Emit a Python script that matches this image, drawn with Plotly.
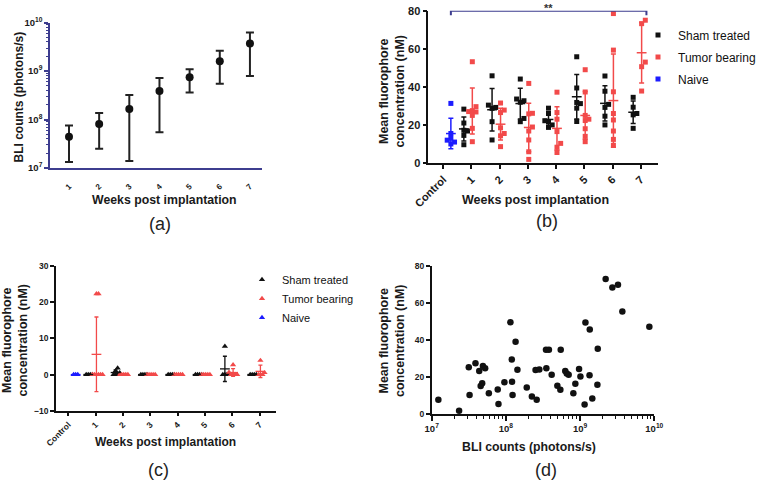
import numpy as np
import plotly.graph_objects as go

FONT = "Liberation Sans, Arial, sans-serif"
BLACK = "#111111"
RED = "#f24a4a"
BLUE = "#1c1cff"
NAVY = "#3d3d8f"

# ---------------- (a) BLI counts over time ----------------
weeks_a = [1, 2, 3, 4, 5, 6, 7]
week_labels_a = ["1", "2", "3", "4", "5", "6", "7"]
bli_mean_a = [4.4e7, 8.1e7, 1.65e8, 3.9e8, 7.5e8, 1.6e9, 3.7e9]
bli_upper_a = [7.5e7, 1.37e8, 3.2e8, 7.2e8, 1.1e9, 2.65e9, 6.3e9]
bli_lower_a = [1.33e7, 2.5e7, 1.4e7, 5.5e7, 3.6e8, 5.5e8, 7.9e8]

# ---------------- (b) fluorophore concentration ----------------
group_labels = ["Control", "1", "2", "3", "4", "5", "6", "7"]
naive_b = [31.3, 15.5, 13.0, 12.0, 11.0, 10.0]
sham_b = [
    [28.3, 21.0, 17.2, 16.8, 14.5, 9.6],
    [45.8, 30.4, 29.2, 28.7, 21.7, 12.1],
    [44.1, 33.6, 32.7, 31.9, 23.4, 21.7],
    [28.8, 26.0, 22.2, 21.5, 20.0, 18.7],
    [55.8, 39.4, 31.8, 31.2, 28.8, 21.8],
    [45.7, 37.7, 30.8, 29.2, 24.6, 20.0],
    [34.5, 29.3, 26.0, 25.3, 18.2],
]
tumor_b = [
    [53.2, 29.6, 27.5, 27.0, 26.8, 25.0, 18.2, 11.2],
    [31.5, 27.8, 26.5, 18.5, 15.5, 14.3, 8.6],
    [41.8, 26.1, 25.8, 18.9, 16.8, 12.1, 5.9, 1.9],
    [37.2, 26.5, 23.0, 16.5, 10.3, 8.3, 5.5],
    [49.0, 37.3, 25.0, 23.0, 22.3, 18.0, 14.0, 11.2],
    [78.5, 59.3, 37.4, 26.0, 22.6, 16.8, 12.4, 9.3],
    [75.0, 73.2, 53.0, 50.6, 37.8],
]

# ---------------- (c) second fluorophore measure ----------------
naive_c = [0, 0, 0]
sham_c = [
    [0, 0, 0, 0],
    [1.8, 1.0, 0.5, 0, 0, 0],
    [0, 0, 0, 0],
    [0, 0, 0, 0],
    [0, 0, 0, 0],
    [7.8, 0, 0, 0, 0],
    [0, 0, 0, 0],
]
tumor_c = [
    [22.3, 22.3, 0, 0, 0, 0, 0, 0],
    [0, 0, 0, 0, 0],
    [0, 0, 0, 0, 0],
    [0, 0, 0, 0, 0],
    [0, 0, 0, 0, 0],
    [2.7, 0.6, 0, 0, 0, 0],
    [3.9, 0.5, 0, 0, 0],
]

# ---------------- (d) correlation ----------------
bli_d = [1.23e7, 2.34e7, 3.16e7, 3.24e7, 3.89e7, 4.37e7, 4.90e7, 5.25e7, 4.57e7, 4.79e7,
         5.89e7, 7.76e7, 7.94e7, 9.55e7, 1.15e8, 1.20e8, 1.21e8, 1.23e8, 1.35e8, 1.43e8,
         1.91e8, 2.24e8, 2.60e8, 2.51e8, 2.82e8, 3.51e8, 3.47e8, 3.80e8, 4.14e8, 4.94e8,
         5.42e8, 5.48e8, 6.31e8, 6.61e8, 7.01e8, 8.11e8, 8.63e8, 9.68e8, 1.01e9, 1.15e9,
         1.18e9, 1.35e9, 1.34e9, 1.46e9, 1.73e9, 1.71e9, 2.21e9, 2.72e9, 3.24e9, 3.71e9,
         8.57e9]
conc_d = [7.9, 1.9, 25.4, 10.4, 27.5, 23.3, 26.0, 24.8, 15.3, 16.7,
          11.3, 13.4, 5.5, 17.3, 49.6, 29.6, 17.6, 10.4, 39.1, 24.0,
          14.4, 9.6, 7.8, 23.9, 24.2, 24.9, 34.8, 34.8, 21.3, 15.4,
          13.2, 34.8, 23.4, 22.0, 21.3, 11.4, 16.5, 24.4, 20.4, 5.3,
          49.5, 45.8, 21.0, 8.5, 35.3, 15.9, 73.0, 68.4, 69.9, 55.5,
          47.2]

OFF_NAIVE, OFF_SHAM, OFF_TUMOR = 0.27, -0.27, 0.03


def swarm(vals, step, ythr):
    """Deterministic spread of points with similar values (beeswarm-like)."""
    order = np.argsort(vals, kind="stable")
    placed, offs = [], [0.0] * len(vals)
    cands = [0.0]
    for k in range(1, 30):
        cands += [k * step, -k * step]
    for i in order:
        v = vals[i]
        for c in cands:
            if all(not (abs(v - pv) < ythr and abs(c - po) < step * 0.9) for pv, po in placed):
                break
        offs[i] = c
        placed.append((v, c))
    return offs


def points(groups, idxs, off, step, ythr):
    xs, ys = [], []
    for gi, vals in zip(idxs, groups):
        for d, v in zip(swarm(vals, step, ythr), vals):
            xs.append(gi + off + d)
            ys.append(v)
    return xs, ys


def stats(groups):
    return ([float(np.mean(g)) for g in groups],
            [float(np.std(g, ddof=1)) if len(g) > 1 else 0.0 for g in groups])


fig = go.Figure()

# ---- (a)
fig.add_trace(go.Scatter(
    x=weeks_a, y=bli_mean_a, mode="markers", xaxis="x", yaxis="y", showlegend=False,
    marker=dict(symbol="circle", size=8, color=BLACK),
    error_y=dict(type="data", symmetric=False,
                 array=[u - m for u, m in zip(bli_upper_a, bli_mean_a)],
                 arrayminus=[m - l for m, l in zip(bli_mean_a, bli_lower_a)],
                 color="#222222", thickness=2, width=4),
    cliponaxis=False))


def add_group_panel(xa, ya, naive, sham, tumor, symbol, size, step, ythr, legend, names, ethick, ewidth):
    idx_w = list(range(1, 8))
    series = [
        (sham, idx_w, OFF_SHAM, BLACK, names[0]),
        (tumor, idx_w, OFF_TUMOR, RED, names[1]),
        ([naive], [0], OFF_NAIVE, BLUE, names[2]),
    ]
    for vals_list, idxs, off, col, name in series:
        xs, ys = points(vals_list, idxs, off, step, ythr)
        fig.add_trace(go.Scatter(
            x=xs, y=ys, mode="markers", name=name, xaxis=xa, yaxis=ya, legend=legend,
            legendgroup=legend + name,
            marker=dict(symbol=symbol, size=size, color=col, line=dict(width=0)),
            cliponaxis=False))
    for vals_list, idxs, off, col, name in series:
        m, s = stats(vals_list)
        fig.add_trace(go.Scatter(
            x=[i + off for i in idxs], y=m, mode="markers", showlegend=False,
            xaxis=xa, yaxis=ya,
            marker=dict(symbol="line-ew", size=7, line=dict(width=ethick, color=col)),
            error_y=dict(type="data", array=s, color=col, thickness=ethick, width=ewidth),
            cliponaxis=False))


names = ["Sham treated", "Tumor bearing", "Naive"]
add_group_panel("x2", "y2", naive_b, sham_b, tumor_b, "square", 5, 0.13, 2.4, "legend", names, 1.5, 2.5)
add_group_panel("x3", "y3", naive_c, sham_c, tumor_c, "triangle-up", 5.5, 0.075, 1.0, "legend2", names, 1.3, 2)

# significance bracket in (b): Naive group to week-7 tumor group
bx0, bx1 = 0 + OFF_NAIVE, 7 + OFF_TUMOR + 0.17
fig.add_trace(go.Scatter(
    x=[bx0, bx0, bx1, bx1], y=[77.6, 80, 80, 77.6], mode="lines", xaxis="x2", yaxis="y2",
    line=dict(color=NAVY, width=2), showlegend=False, cliponaxis=False, hoverinfo="skip"))

# ---- (d)
fig.add_trace(go.Scatter(
    x=bli_d, y=conc_d, mode="markers", xaxis="x4", yaxis="y4", showlegend=False,
    marker=dict(symbol="circle", size=6.5, color=BLACK), cliponaxis=False))

tf = dict(family=FONT, weight="bold", color="#1a1a1a")


def px_x(p):
    return p / 760.0


def px_y(p):
    return 1 - p / 481.0


axis_common = dict(showgrid=False, zeroline=False, showline=True, ticks="outside", mirror=False)
pow_text = ["10<sup>7</sup>", "10<sup>8</sup>", "10<sup>9</sup>", "10<sup>10</sup>"]

fig.update_layout(
    width=760, height=481, margin=dict(l=0, r=0, t=0, b=0, autoexpand=False),
    paper_bgcolor="white", plot_bgcolor="white",
    font=dict(family=FONT, color="#1a1a1a"),
    # (a)
    xaxis=dict(**axis_common, domain=[px_x(50), px_x(262)], anchor="y", range=[0.37, 7.4],
               tickmode="array", tickvals=weeks_a, ticktext=week_labels_a, tickangle=-45,
               linecolor=NAVY, linewidth=1.5, ticklen=0, ticklabelstandoff=9,
               tickfont=dict(**tf, size=8)),
    yaxis=dict(**axis_common, domain=[px_y(168), px_y(22.7)], anchor="x", type="log", range=[7, 10],
               tickmode="array", tickvals=[1e7, 1e8, 1e9, 1e10], ticktext=pow_text,
               linecolor=NAVY, linewidth=1.5, ticklen=4, tickcolor=NAVY, tickwidth=1.5,
               minor=dict(ticks="outside", dtick="D1", ticklen=2, tickcolor=NAVY, tickwidth=1),
               tickfont=dict(**tf, size=9.5)),
    # (b)
    xaxis2=dict(**axis_common, domain=[px_x(428.3), px_x(658)], anchor="y2", range=[-0.53, 7.61],
                tickmode="array", tickvals=list(range(8)), ticktext=group_labels, tickangle=-45,
                linecolor=BLACK, linewidth=1.5, ticklen=4, tickwidth=1.5, tickcolor=BLACK,
                tickfont=dict(**tf, size=11)),
    yaxis2=dict(**axis_common, domain=[px_y(163), px_y(10.7)], anchor="x2", range=[0, 80], dtick=20,
                linecolor=BLACK, linewidth=1.5, ticklen=4, tickwidth=1.5, tickcolor=BLACK,
                tickfont=dict(**tf, size=11)),
    # (c)
    xaxis3=dict(**axis_common, domain=[px_x(56), px_x(276)], anchor="y3", range=[-0.45, 7.6],
                tickmode="array", tickvals=list(range(8)), ticktext=group_labels, tickangle=-45,
                linecolor=BLACK, linewidth=1.5, ticklen=4, tickwidth=1.5, tickcolor=BLACK,
                tickfont=dict(**tf, size=8.5)),
    yaxis3=dict(**axis_common, domain=[px_y(410.7), px_y(266)], anchor="x3", range=[-10, 30], dtick=10,
                linecolor=BLACK, linewidth=1.5, ticklen=4, tickwidth=1.5, tickcolor=BLACK,
                tickfont=dict(**tf, size=8.5)),
    # (d)
    xaxis4=dict(**axis_common, domain=[px_x(431.7), px_x(654.3)], anchor="y4", type="log", range=[7, 10],
                tickmode="array", tickvals=[1e7, 1e8, 1e9, 1e10], ticktext=pow_text,
                linecolor=BLACK, linewidth=1.5, ticklen=5, tickwidth=1.5, tickcolor=BLACK,
                minor=dict(ticks="outside", dtick="D1", ticklen=3, tickcolor=BLACK, tickwidth=1),
                tickfont=dict(**tf, size=9.5)),
    yaxis4=dict(**axis_common, domain=[px_y(414.3), px_y(266)], anchor="x4", range=[0, 80], dtick=20,
                linecolor=BLACK, linewidth=1.5, ticklen=4, tickwidth=1.5, tickcolor=BLACK,
                tickfont=dict(**tf, size=8.5)),
    legend=dict(x=px_x(638), y=px_y(20.5), xanchor="left", yanchor="top", bgcolor="rgba(0,0,0,0)",
                font=dict(family=FONT, size=12, color="#111111"),
                traceorder="grouped", tracegroupgap=3),
    legend2=dict(x=px_x(242), y=px_y(265), xanchor="left", yanchor="top", bgcolor="rgba(0,0,0,0)",
                 font=dict(family=FONT, size=11, color="#111111"),
                 traceorder="grouped", tracegroupgap=0),
)

ann = []


def title(text, x, y, size, angle=0):
    ann.append(dict(text=text, x=px_x(x), y=px_y(y), xref="paper", yref="paper", showarrow=False,
                    xanchor="center", yanchor="middle", textangle=angle,
                    font=dict(family=FONT, size=size, weight="bold", color="#1a1a1a")))


def panel_label(text, x, y):
    ann.append(dict(text=text, x=px_x(x), y=px_y(y), xref="paper", yref="paper", showarrow=False,
                    xanchor="center", yanchor="middle",
                    font=dict(family=FONT, size=18, color="#222222")))


title("Weeks post implantation", 164.7, 200, 12.3)
title("BLI counts (photons/s)", 18, 97.5, 12, -90)
title("Weeks post implantation", 535.8, 200, 12.5)
title("Mean fluorophore<br>concentration (nM)", 391.5, 91, 12.5, -90)
title("Weeks post implantation", 165, 441.7, 12)
title("Mean fluorophore<br>concentration (nM)", 14.5, 340, 12.5, -90)
title("BLI counts (photons/s)", 528.7, 447.3, 12.3)
title("Mean fluorophore<br>concentration (nM)", 392, 341, 12.5, -90)
panel_label("(a)", 160, 224)
panel_label("(b)", 547, 221)
panel_label("(c)", 158, 470)
panel_label("(d)", 545.7, 470)
ann.append(dict(text="**", x=(bx0 + bx1) / 2, y=px_y(8), xref="x2", yref="paper", showarrow=False,
                xanchor="center", yanchor="middle",
                font=dict(family=FONT, size=11, weight="bold", color="#333333")))
fig.update_layout(annotations=ann)

# remove the default 8px page margin so the figure sits at the window's top-left corner
fig.write_html("out.html", config={"displayModeBar": False},
               post_script="document.body.style.margin='0px';")
